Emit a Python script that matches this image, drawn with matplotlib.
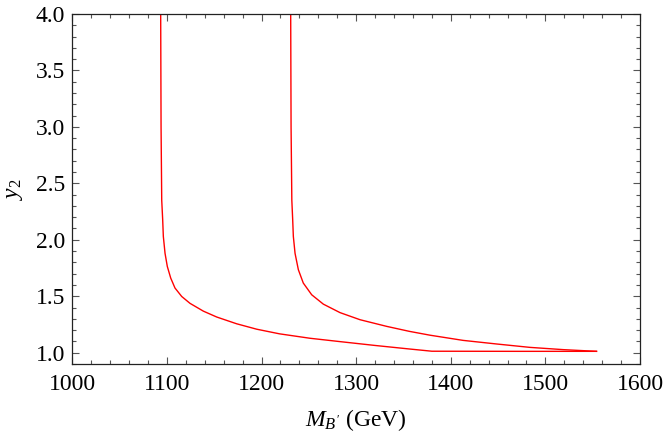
import matplotlib
matplotlib.use("Agg")
import matplotlib.pyplot as plt
from matplotlib.ticker import MultipleLocator

# contour: M_B' (GeV) vs y_2
left_x = [1093.4, 1093.8, 1094.5, 1095.5, 1096.2, 1098.0, 1100.4, 1104.0, 1108.5,
          1115.6, 1124.4, 1138.5, 1152.6, 1173.7, 1194.9, 1219.0, 1251.0, 1283.0,
          1320.0, 1356.0, 1380.0, 1470.0, 1554.0]
left_y = [4.0, 3.0, 2.35, 2.18, 2.03, 1.88, 1.764, 1.661, 1.573,
          1.498, 1.437, 1.368, 1.316, 1.256, 1.208, 1.167, 1.128, 1.098,
          1.064, 1.033, 1.013, 1.012, 1.012]

right_x = [1230.8, 1231.2, 1232.0, 1232.9, 1233.6, 1235.4, 1238.9, 1244.1, 1253.0,
           1265.3, 1282.9, 1304.1, 1332.3, 1356.2, 1378.0, 1413.0, 1448.5, 1483.7,
           1519.0, 1554.0]
right_y = [4.0, 3.0, 2.35, 2.18, 2.03, 1.88, 1.735, 1.617, 1.513,
           1.430, 1.355, 1.292, 1.233, 1.189, 1.155, 1.109, 1.077, 1.047,
           1.027, 1.012]

plt.rcParams["font.family"] = "Liberation Serif"
plt.rcParams["mathtext.fontset"] = "custom"
plt.rcParams["mathtext.rm"] = "Liberation Serif"
plt.rcParams["mathtext.it"] = "Liberation Serif:italic"

fig = plt.figure(figsize=(6.64, 4.33), dpi=100)
ax = fig.add_axes([0.1089, 0.1594, 0.855, 0.8083])

ax.plot(left_x, left_y, color="red", lw=1.0)
ax.plot(right_x, right_y, color="red", lw=1.0)

ax.set_xlim(1000, 1600)
ax.set_ylim(0.9, 4.0)
ax.xaxis.set_major_locator(MultipleLocator(100))
ax.xaxis.set_minor_locator(MultipleLocator(20))
ax.yaxis.set_major_locator(MultipleLocator(0.5))
ax.yaxis.set_minor_locator(MultipleLocator(0.1))
ax.yaxis.set_major_formatter(plt.FormatStrFormatter("%.1f"))

ax.tick_params(which="both", direction="in", top=True, right=True,
               labelsize=17, color="#555555", width=0.8)
ax.tick_params(which="major", length=5)
ax.tick_params(which="minor", length=3)
ax.tick_params(axis="x", pad=7)
ax.tick_params(axis="y", pad=5)
for s in ax.spines.values():
    s.set_linewidth(0.9)
    s.set_color("#222222")

ax.set_xlabel(r"$M_{B'}$ (GeV)", fontsize=17, labelpad=9)
ax.set_ylabel(r"$y_2$", fontsize=17, labelpad=8)

plt.savefig("out.png", dpi=100)
